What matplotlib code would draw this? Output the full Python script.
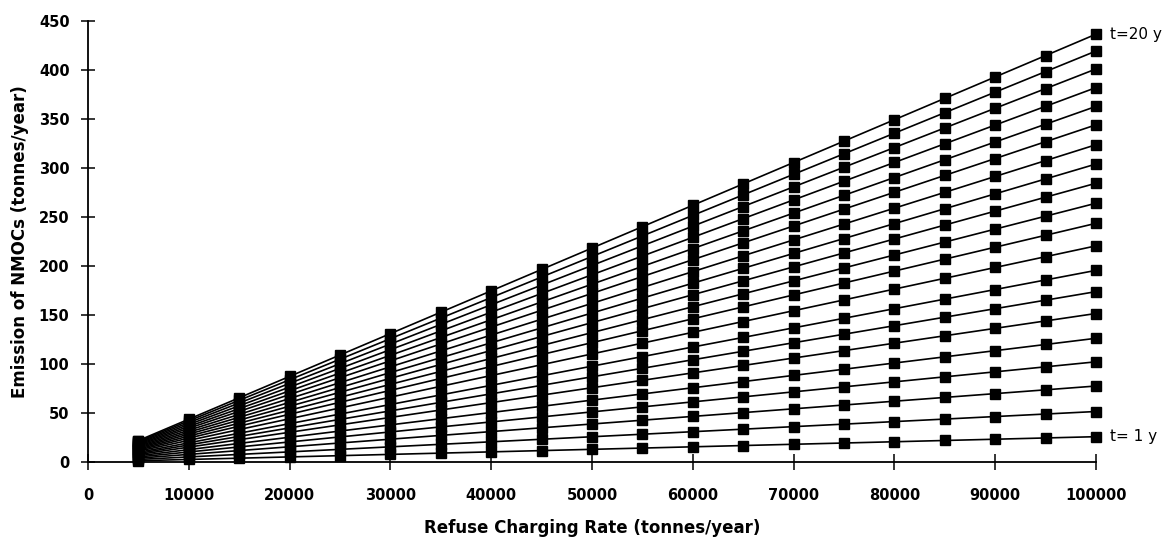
import matplotlib
matplotlib.use('Agg')
import matplotlib.pyplot as plt
import numpy as np

# refuse charging rate (tonnes/year)
charging_rate = [5000, 10000, 15000, 20000, 25000, 30000, 35000, 40000, 45000, 50000,
                 55000, 60000, 65000, 70000, 75000, 80000, 85000, 90000, 95000, 100000]

# site age t (years), one line each
ages = list(range(1, 21))

nmoc_per_tonne = [0.000258, 0.000515, 0.000775, 0.001022, 0.001262, 0.001515, 0.001738,
                  0.001955, 0.002205, 0.002435, 0.002640, 0.002844, 0.003040, 0.003237,
                  0.003440, 0.003628, 0.003820, 0.004010, 0.004193, 0.004365]

x_ticks = [0, 10000, 20000, 30000, 40000, 50000, 60000, 70000, 80000, 90000, 100000]
y_ticks = [0, 50, 100, 150, 200, 250, 300, 350, 400, 450]

plt.rcParams['font.family'] = ['DejaVu Sans']

fig = plt.figure(figsize=(11.71, 5.39), dpi=100)
ax = fig.add_axes([0.0751, 0.1429, 0.8608, 0.8182])

rate = np.array(charging_rate)
for age, k in zip(ages, nmoc_per_tonne):
    ax.plot(rate, rate * k, color='black', linewidth=1.2, marker='s',
            markersize=6.8, markerfacecolor='black', markeredgecolor='black',
            clip_on=False, zorder=3)

# end labels for the first and last curve
ax.text(1.014, nmoc_per_tonne[-1] * charging_rate[-1] / 450, 't=20 y',
        transform=ax.transAxes, va='center', ha='left', fontsize=11)
ax.text(1.014, nmoc_per_tonne[0] * charging_rate[-1] / 450, 't= 1 y',
        transform=ax.transAxes, va='center', ha='left', fontsize=11)

ax.set_xlim(0, 100000)
ax.set_ylim(0, 450)
ax.set_xticks(x_ticks)
ax.set_yticks(y_ticks)
ax.set_xticklabels([str(v) for v in x_ticks], fontweight='bold')
ax.set_yticklabels([str(v) for v in y_ticks], fontweight='bold')
ax.tick_params(axis='x', direction='inout', length=11, width=1.1, labelsize=10.5, pad=13)
ax.tick_params(axis='y', direction='inout', length=10.5, width=1.1, labelsize=10.5, pad=8)

for side in ('top', 'right'):
    ax.spines[side].set_visible(False)
for side in ('left', 'bottom'):
    ax.spines[side].set_linewidth(1.3)

ax.set_xlabel('Refuse Charging Rate (tonnes/year)', fontsize=12, fontweight='bold')
ax.set_ylabel('Emission of NMOCs (tonnes/year)', fontsize=12, fontweight='bold')
ax.xaxis.set_label_coords(0.5, -0.1497)
ax.yaxis.set_label_coords(-0.0675, 0.5)
ax.xaxis.label.set_va('center')
ax.yaxis.label.set_va('center')

fig.savefig('out.png', dpi=100)
plt.close(fig)
